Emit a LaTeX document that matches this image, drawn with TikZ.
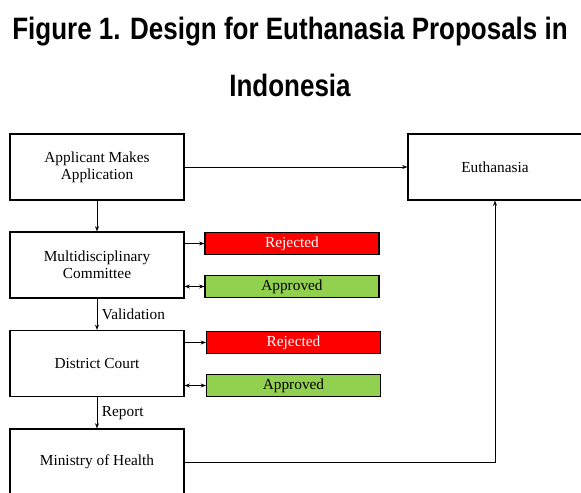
\documentclass[tikz,border=0pt]{standalone}
\usepackage{fontspec}
\setmainfont{Liberation Serif}
\newfontfamily\titlefont[FakeStretch=0.84]{Liberation Sans}
\usetikzlibrary{arrows.meta}
\begin{document}
\begin{tikzpicture}[x=0.75pt,y=-0.75pt,
        stage/.style={draw, line width=0.8pt, minimum width=130.5pt, minimum height=49.5pt, align=center, inner sep=2pt, font=\fontsize{11.5}{12.5}\selectfont},
        verdict/.style={draw, line width=0.8pt, minimum width=130.5pt, minimum height=17pt, inner sep=0pt, font=\fontsize{11.5}{12.5}\selectfont},
        flow/.style={-{Stealth[length=4pt,width=3pt]}, line width=0.75pt},
        both/.style={{Stealth[length=4pt,width=3pt]}-{Stealth[length=4pt,width=3pt]}, line width=0.75pt}]
        \useasboundingbox (0,0) rectangle (581,492);
        % Title
            \node (title1) at (290,32) {\titlefont\bfseries\fontsize{23.2}{27}\selectfont Figure 1. Design for Euthanasia Proposals in};
            \node (title2) at (290,85) {\titlefont\bfseries\fontsize{23.2}{27}\selectfont Indonesia};
        % Stages
            \node[stage] (app) at (97,167) {Applicant Makes\\Application};
            \node[stage] (euth) at (495,167) {Euthanasia};
            \node[stage] (mdc) at (97,265) {Multidisciplinary\\Committee};
            \node[stage] (court) at (97,363.5) {District Court};
            \node[stage] (moh) at (97,462) {Ministry of Health};
        % Outcomes
            \node[verdict, fill={rgb,255:red,255;green,0;blue,0}, text=white] (rej1) at (292,243.5) {Rejected};
            \node[verdict, fill={rgb,255:red,146;green,208;blue,80}] (app1) at (292,286.5) {Approved};
            \node[verdict, fill={rgb,255:red,255;green,0;blue,0}, text=white] (rej2) at (293.5,342.5) {Rejected};
            \node[verdict, fill={rgb,255:red,146;green,208;blue,80}] (app2) at (293.5,385.5) {Approved};
        % Connectors
            \draw[flow] (app) -- (euth);
            \draw[flow] (app) -- (mdc);
            \draw[flow] (mdc.east |- rej1) -- (rej1);
            \draw[both] (mdc.east |- app1) -- (app1);
            \draw[flow] (mdc) -- node[right, font=\fontsize{11.5}{12.5}\selectfont] {Validation} (court);
            \draw[flow] (court.east |- rej2) -- (rej2);
            \draw[both] (court.east |- app2) -- (app2);
            \draw[flow] (court) -- node[right, font=\fontsize{11.5}{12.5}\selectfont] {Report} (moh);
            \draw[flow] (moh.east) -| (euth.south);
\end{tikzpicture}
\end{document}
